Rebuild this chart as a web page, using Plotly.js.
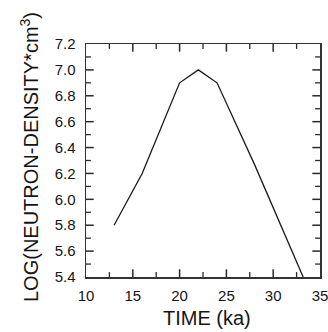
<!DOCTYPE html>
<html>
<head>
<meta charset="utf-8">
<script src="https://cdn.plot.ly/plotly-3.0.1.min.js"></script>
<style>html,body{margin:0;padding:0;background:#fff;}#chart{width:328px;height:332px;}</style>
</head>
<body>
<div id="chart"></div>
<script>
const timeKa = [13, 16, 20, 22, 24, 28, 33.2];
const logNeutronDensity = [5.8, 6.2, 6.9, 7.0, 6.9, 6.27, 5.4];
const xMajorTicks = [10, 15, 20, 25, 30, 35];
const xMinorTicks = [12.5, 17.5, 22.5, 27.5, 32.5];
const yMajorTicks = [5.4, 5.6, 5.8, 6.0, 6.2, 6.4, 6.6, 6.8, 7.0, 7.2];
const yMinorTicks = [5.5, 5.7, 5.9, 6.1, 6.3, 6.5, 6.7, 6.9, 7.1];
const yTickText = ['5.4', '5.6', '5.8', '6.0', '6.2', '6.4', '6.6', '6.8', '7.0', '7.2'];
const xRange = [10, 35];
const yRange = [5.4, 7.2];
const xTitle = 'TIME (ka)';
const yTitle = 'LOG(NEUTRON-DENSITY*cm<sup>3</sup>)';

const fam = 'Liberation Sans, Arial, sans-serif';
const col = '#151515';
const tickCol = '#2a2a2a';

const trace = {
  x: timeKa, y: logNeutronDensity, type: 'scatter', mode: 'lines',
  line: {color: '#1a1a1a', width: 1.3}, hoverinfo: 'skip'
};

// Tick marks: line markers centred on the frame, clipped to the plot area so only the inner half shows.
function tickTrace(xs, ys, symbol, size, w) {
  return {x: xs, y: ys, type: 'scatter', mode: 'markers', cliponaxis: true, hoverinfo: 'skip',
          marker: {symbol: symbol, size: size, color: tickCol, line: {color: tickCol, width: w}}};
}
const xAll = xMajorTicks.slice(1, -1);
const yAll = yMajorTicks.slice(1, -1);
const tickTraces = [
  tickTrace(xAll.concat(xAll), xAll.map(() => yRange[0]).concat(xAll.map(() => yRange[1])), 'line-ns', 11, 1.5),
  tickTrace(xMinorTicks.concat(xMinorTicks), xMinorTicks.map(() => yRange[0]).concat(xMinorTicks.map(() => yRange[1])), 'line-ns', 7, 1.3),
  tickTrace(yAll.map(() => xRange[0]).concat(yAll.map(() => xRange[1])), yAll.concat(yAll), 'line-ew', 11, 1.5),
  tickTrace(yMinorTicks.map(() => xRange[0]).concat(yMinorTicks.map(() => xRange[1])), yMinorTicks.concat(yMinorTicks), 'line-ew', 7, 1.3)
];

const axisCommon = {
  showline: true, linecolor: '#333', linewidth: 1.5, mirror: true,
  ticks: '', showgrid: false, zeroline: false, fixedrange: true,
  ticklabeloverflow: 'allow',
  tickfont: {family: fam, color: col, size: 15}
};

const layout = {
  width: 328, height: 332,
  margin: {l: 86, r: 8, t: 44, b: 55},
  paper_bgcolor: '#fff', plot_bgcolor: '#fff',
  showlegend: false,
  xaxis: Object.assign({}, axisCommon, {
    range: xRange, tickmode: 'array', tickvals: xMajorTicks, ticktext: xMajorTicks.map(String),
    ticklabelstandoff: 4
  }),
  yaxis: Object.assign({}, axisCommon, {
    range: yRange, tickmode: 'array', tickvals: yMajorTicks, ticktext: yTickText,
    ticklabelstandoff: 6
  }),
  annotations: [
    {text: xTitle, xref: 'paper', yref: 'paper', x: 0.517, y: -0.176, xanchor: 'center', yanchor: 'middle',
     showarrow: false, font: {family: fam, color: col, size: 20}},
    {text: yTitle, xref: 'paper', yref: 'paper', x: -0.2436, y: 0.515, xanchor: 'center', yanchor: 'middle',
     textangle: -90, showarrow: false, font: {family: fam, color: col, size: 20}}
  ]
};

Plotly.newPlot('chart', [trace].concat(tickTraces), layout, {staticPlot: true, displayModeBar: false});
</script>
</body>
</html>
